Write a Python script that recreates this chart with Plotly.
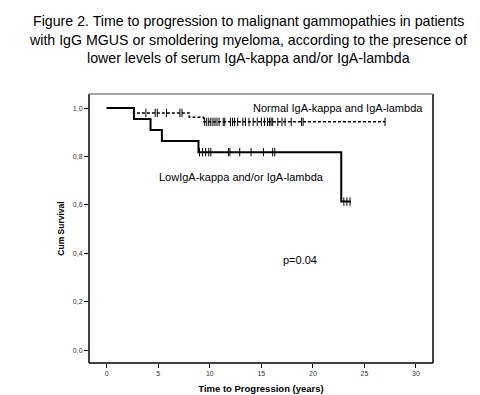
import plotly.graph_objects as go

# ---- data ----
title_lines = [
    "Figure 2. Time to progression to malignant gammopathies in patients",
    "with IgG MGUS or smoldering myeloma, according to the presence of",
    "lower levels of serum IgA-kappa and/or IgA-lambda",
]
# Normal IgA-kappa and IgA-lambda: step curve (time, survival)
normal_t = [0.0, 2.6, 8.0, 9.4, 27.0]
normal_s = [1.0, 0.980, 0.962, 0.943, 0.943]
normal_cens = [3.8, 4.7, 4.9, 5.8, 7.1, 7.3, 9.5, 9.7, 9.9, 10.1, 10.3, 10.5,
               10.7, 10.9, 11.3, 11.45, 12.0, 12.2, 12.4, 12.7, 13.2, 13.45,
               13.8, 14.2, 14.6, 15.0, 15.3, 15.6, 15.8, 15.95, 16.1, 16.6,
               17.0, 17.3, 17.9, 18.9, 19.05, 27.0]
# Low IgA-kappa and/or IgA-lambda
low_t = [0.0, 2.65, 4.25, 5.35, 8.9, 22.75, 23.7]
low_s = [1.0, 0.955, 0.909, 0.864, 0.818, 0.614, 0.614]
low_cens = [9.0, 9.3, 9.6, 9.9, 10.1, 11.8, 11.95, 12.9, 14.0, 15.2, 16.1,
            16.3, 23.0, 23.3, 23.6]

y_ticks = [0.0, 0.2, 0.4, 0.6, 0.8, 1.0]
y_ticklabels = ["0,0", "0,2", "0,4", "0,6", "0,8", "1,0"]
x_ticks = [0, 5, 10, 15, 20, 25, 30]

label_normal = "Normal IgA-kappa and IgA-lambda"
label_low = "LowIgA-kappa and/or IgA-lambda"
p_text = "p=0.04"


def step_at(ts, ss, x):
    v = ss[0]
    for t, s in zip(ts, ss):
        if x >= t:
            v = s
    return v


FONT = "Liberation Sans, Arial, sans-serif"
fig = go.Figure()

fig.add_trace(go.Scatter(x=normal_t, y=normal_s, mode="lines",
                         line=dict(color="black", width=1.5, dash="3px,2px", shape="hv"),
                         hoverinfo="skip", showlegend=False))
fig.add_trace(go.Scatter(x=normal_cens, y=[step_at(normal_t, normal_s, c) for c in normal_cens],
                         mode="markers",
                         marker=dict(symbol="line-ns-open", size=6, color="black",
                                     line=dict(color="black", width=1)),
                         hoverinfo="skip", showlegend=False))
fig.add_trace(go.Scatter(x=low_t, y=low_s, mode="lines",
                         line=dict(color="black", width=2, shape="hv"),
                         hoverinfo="skip", showlegend=False))
fig.add_trace(go.Scatter(x=low_cens, y=[step_at(low_t, low_s, c) for c in low_cens],
                         mode="markers",
                         marker=dict(symbol="line-ns-open", size=6, color="black",
                                     line=dict(color="black", width=1)),
                         hoverinfo="skip", showlegend=False))

# plot frame
frame = [
    dict(x0=0, x1=0, y0=0, y1=1, color="black", w=1.5),
    dict(x0=1, x1=1, y0=0, y1=1, color="black", w=1.5),
    dict(x0=0, x1=1, y0=0, y1=0, color="black", w=1.5),
    dict(x0=0, x1=1, y0=1, y1=1, color="#888888", w=1.5),
]
for f in frame:
    fig.add_shape(type="line", xref="paper", yref="paper", x0=f["x0"], x1=f["x1"],
                  y0=f["y0"], y1=f["y1"], line=dict(color=f["color"], width=f["w"]))

annots = [
    dict(x=22.4, y=1.0, text=label_normal),
    dict(x=13.1, y=0.715, text=label_low),
    dict(x=18.75, y=0.372, text=p_text),
]
for a in annots:
    fig.add_annotation(x=a["x"], y=a["y"], text=a["text"], showarrow=False,
                       xanchor="center", yanchor="middle",
                       font=dict(family=FONT, size=11, color="black"))

title_py = [13, 32, 50]
for line, py in zip(title_lines, title_py):
    fig.add_annotation(xref="paper", yref="paper", x=(240 - 81) / 344, y=(355 - py) / 269,
                       text=line, showarrow=False, xanchor="center", yanchor="middle",
                       font=dict(family=FONT, size=14.2, color="black"))

fig.update_layout(
    width=480, height=395,
    margin=dict(l=81, r=55, t=86, b=40, autoexpand=False),
    paper_bgcolor="white", plot_bgcolor="white",
    font=dict(family=FONT, color="black"),
    xaxis=dict(range=[-1.72, 31.65], tickvals=x_ticks, ticks="outside", ticklen=4,
               tickcolor="black", tickwidth=1, showgrid=False, zeroline=False, showline=False,
               tickfont=dict(size=7, color="#333333"),
               title=dict(text="<b>Time to Progression (years)</b>", font=dict(size=9.5), standoff=8)),
    yaxis=dict(range=[-0.052, 1.058], tickvals=y_ticks, ticktext=y_ticklabels, ticks="outside",
               ticklen=4, tickcolor="black", tickwidth=1, showgrid=False, zeroline=False,
               showline=False, tickfont=dict(size=7, color="#333333"),
               title=dict(text="<b>Cum Survival</b>", font=dict(size=8.5), standoff=6)),
)

fig.write_html("out.html")
